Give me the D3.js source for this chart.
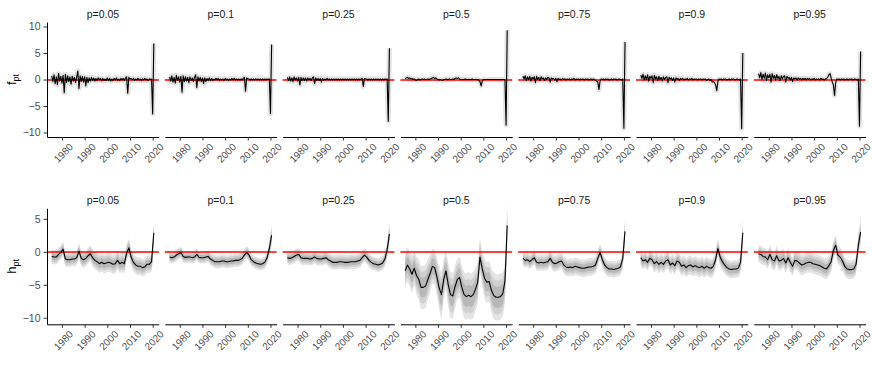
<!DOCTYPE html>
<html>
<head>
<meta charset="utf-8">
<script src="https://cdn.jsdelivr.net/npm/d3@7"></script>
<style>
body { margin: 0; background: #fff; }
text { font-family: "Liberation Sans", Arial, sans-serif; }
</style>
</head>
<body>
<script>
// quantile levels, one panel each
const probs = ['0.05', '0.1', '0.25', '0.5', '0.75', '0.9', '0.95'];
const yearTicks = [1980, 1990, 2000, 2010, 2020];
const fTicks = [-10, -5, 0, 5, 10];
const hTicks = [-10, -5, 0, 5];

// f: semi-annual 1975.5..2020.5, h: annual 1975.5..2020.5
const fTime = d3.range(1975.5, 2020.75, 0.5);
const hTime = d3.range(1975.5, 2020.75, 1);

const f005 = [0.7,-0.4,0.9,-0.8,0.5,-1.0,1.1,-0.3,0.6,-0.7, 0.8,-2.5,1.0,-0.6,0.7,-0.4,0.5,-0.9,0.6,-0.3,
  0.4,-0.6,0.5,1.6,-1.7,0.7,-0.4,0.6,-0.5,0.5, -1.2,0.4,-0.6,0.3,-0.3,0.4,-0.2,0.3,-0.3,0.2,
  -0.2,0.3,-0.1,0.2,-0.3,0.2,-0.2,0.1,-0.2,0.3, -0.2,0.2,-0.3,0.1,-0.2,0.2,-0.1,0.3,-0.2,0.1,
  -0.2,0.2,-0.1,0.2,-0.2,0.3,0.5,-2.6,0.4,0.1, 0.2,-0.1,0.2,-0.2,0.1,-0.1,0.2,-0.1,0.1,-0.2,
  0.1,-0.1,0.2,-0.1,0.1,-0.2,0.1,0.0,0.1,-6.5, 6.8];
const f010 = [0.5,-0.3,0.7,-0.5,0.4,-0.7,0.8,-0.2,0.5,-0.5, 0.6,-2.4,0.7,-0.4,0.5,-0.3,0.4,-0.6,0.5,-0.2,
  0.3,-0.4,0.4,0.9,-1.5,0.5,-0.3,0.4,-0.4,0.3, -0.8,0.3,-0.4,0.2,-0.2,0.3,-0.2,0.2,-0.2,0.1,
  -0.1,0.2,-0.1,0.2,-0.2,0.1,-0.1,0.1,-0.2,0.2, -0.1,0.1,-0.2,0.1,-0.1,0.2,-0.1,0.2,-0.1,0.1,
  -0.1,0.1,-0.1,0.1,-0.1,0.2,0.4,-2.2,0.3,0.1, 0.1,-0.1,0.1,-0.1,0.1,-0.1,0.1,-0.1,0.1,-0.1,
  0.1,-0.1,0.1,-0.1,0.1,-0.1,0.1,0.0,0.1,-6.4, 6.6];
const f025 = [0.4,-0.2,0.5,-0.3,0.3,-0.4,0.5,-0.1,0.3,-0.3, 0.4,-1.0,0.4,-0.2,0.3,-0.2,0.3,-0.3,0.3,-0.1,
  0.2,-0.2,0.3,0.5,-0.8,0.3,-0.2,0.2,-0.2,0.2, -0.5,0.2,-0.2,0.1,-0.1,0.2,-0.1,0.1,-0.1,0.1,
  -0.1,0.1,-0.1,0.1,-0.1,0.1,-0.1,0.1,-0.1,0.1, -0.1,0.1,-0.1,0.1,-0.1,0.1,-0.1,0.1,-0.1,0.1,
  -0.1,0.1,-0.1,0.1,-0.1,0.1,0.2,-1.3,0.2,0.1, 0.1,-0.1,0.1,-0.1,0.1,-0.1,0.1,-0.1,0.1,-0.1,
  0.1,-0.1,0.1,-0.1,0.1,-0.1,0.1,0.0,0.1,-7.9, 5.9];
const f050 = [0.1,0.3,0.4,0.2,0.3,0.1,0.2,0.0,0.1,-0.1, -0.2,0.0,0.1,-0.1,0.0,0.1,0.0,0.1,0.0,0.0,
  0.1,0.0,0.1,0.2,0.3,0.4,0.2,0.3,0.1,0.0, -0.1,0.0,-0.1,-0.2,0.0,0.0,0.1,0.0,0.0,0.1,
  0.0,0.0,0.1,0.0,0.2,0.3,0.2,0.3,0.1,0.0, 0.0,0.0,0.0,0.1,0.0,0.0,0.0,0.0,0.0,0.1,
  0.0,0.0,0.0,0.0,0.0,-0.1,-0.4,-1.2,-0.3,0.0, 0.0,0.0,0.0,0.0,0.0,0.0,0.0,0.0,0.0,0.0,
  0.0,0.0,0.0,0.0,0.0,0.0,0.0,0.0,0.0,-8.6, 9.3];
const f075 = [0.6,0.1,0.7,-0.2,0.5,0.0,0.6,-0.3,0.4,0.1, 0.5,-0.6,0.6,0.0,0.4,-0.2,0.5,0.1,0.3,-0.2,
  0.3,0.0,0.4,0.3,-0.5,0.3,0.1,0.2,-0.1,0.2, -0.4,0.2,0.0,0.1,-0.1,0.2,0.0,0.1,-0.1,0.1,
  0.0,0.1,-0.1,0.1,0.0,0.2,-0.1,0.1,0.0,0.1, -0.1,0.1,0.0,0.1,-0.1,0.1,0.0,0.1,-0.1,0.0,
  0.1,-0.1,0.1,0.0,-0.2,-0.3,-0.5,-1.9,-0.3,0.1, 0.0,0.1,-0.1,0.1,0.0,0.1,-0.1,0.0,0.1,-0.1,
  0.1,0.0,0.1,-0.1,0.0,0.1,0.0,-0.1,0.1,-9.2, 7.1];
const f090 = [0.8,0.2,1.0,-0.1,0.7,0.0,0.9,-0.3,0.6,0.2, 0.7,-0.6,0.8,0.1,0.5,-0.2,0.6,0.0,0.4,-0.3,
  0.5,0.0,0.4,0.5,-0.6,0.4,0.1,0.3,-0.2,0.3, -0.5,0.3,0.0,0.2,-0.2,0.2,0.0,0.2,-0.1,0.1,
  0.0,0.2,-0.1,0.1,0.0,0.2,-0.1,0.1,0.0,0.1, -0.1,0.1,0.0,0.1,-0.1,0.1,0.0,0.1,-0.2,0.0,
  0.1,-0.2,0.0,-0.5,-0.3,-0.6,-1.0,-2.1,-0.4,0.1, 0.0,0.1,-0.1,0.1,0.0,0.1,-0.1,0.0,0.1,-0.1,
  0.1,0.0,0.1,-0.1,0.0,0.1,0.0,-0.1,0.1,-9.3, 5.0];
const f095 = [1.1,0.3,1.3,0.0,1.0,0.2,1.2,-0.2,0.9,0.3, 1.0,-0.5,1.1,0.2,0.8,-0.1,0.9,0.1,0.6,-0.2,
  0.7,0.1,0.6,0.7,-0.5,0.6,0.2,0.4,-0.1,0.4, -0.4,0.3,0.1,0.3,-0.1,0.3,0.0,0.2,-0.1,0.2,
  0.0,0.2,-0.1,0.2,0.0,0.2,-0.1,0.1,0.0,0.2, -0.1,0.1,0.0,0.1,-0.1,0.2,0.0,0.1,-0.1,0.1,
  0.2,0.4,0.9,1.1,0.3,-0.5,-1.0,-3.0,-0.6,0.1, 0.0,0.1,-0.1,0.1,0.0,0.1,-0.1,0.0,0.1,-0.1,
  0.1,0.0,0.1,-0.1,0.0,0.1,0.0,-0.1,0.1,-8.8, 5.3];

const h005 = [-0.7,-0.8,-0.8,-0.4,-0.1, 0.4,-1.1,-1.2,-1.2,-1.1, -1.1,-0.9,0.1,-1.0,-1.2, -1.0,-0.6,-0.3,-0.9,-1.3,
  -1.5,-1.8,-1.6,-1.8,-1.7, -1.6,-1.7,-1.9,-1.8,-1.3, -1.8,-1.6,-1.8,-0.2,0.6, -0.8,-1.6,-2.0,-2.2,-2.2,
  -2.4,-2.3,-1.9,-1.9,-1.5, 2.9];
const h010 = [-0.8,-0.9,-0.8,-0.5,-0.3, -0.1,-0.7,-0.85,-0.8,-0.8, -0.9,-0.8,-0.4,-0.85,-0.9, -0.9,-0.8,-0.7,-1.1,-1.3,
  -1.5,-1.5,-1.5,-1.4,-1.4, -1.5,-1.5,-1.4,-1.4,-1.3, -1.3,-1.2,-1.0,-0.5,-0.1, -0.5,-1.2,-1.5,-1.7,-1.8,
  -1.9,-1.8,-1.6,-0.9,0.5, 2.5];
const h025 = [-0.9,-1.0,-0.9,-0.7,-0.5, -0.4,-0.9,-1.0,-1.0,-1.0, -1.1,-1.0,-0.8,-1.0,-1.1, -1.1,-1.0,-0.9,-1.2,-1.4,
  -1.6,-1.6,-1.6,-1.5,-1.5, -1.6,-1.6,-1.6,-1.5,-1.5, -1.5,-1.4,-1.3,-0.9,-0.5, -0.8,-1.3,-1.6,-1.8,-1.9,
  -2.0,-1.9,-1.7,-1.1,0.3, 2.7];
const h050 = [-2.9,-2.0,-2.6,-3.4,-2.5, -3.6,-4.2,-5.4,-5.4,-5.2, -4.2,-3.3,-2.2,-2.4,-3.8, -5.5,-6.5,-4.2,-2.9,-5.0,
  -6.5,-6.7,-5.3,-4.2,-3.9, -5.4,-6.5,-6.8,-6.6,-6.8, -6.5,-5.7,-4.6,-0.8,-2.6, -4.0,-4.6,-4.5,-5.8,-6.6,
  -6.9,-6.9,-6.8,-6.4,-4.5, 4.0];
const h075 = [-1.0,-1.3,-1.2,-1.5,-1.2, -0.9,-1.6,-1.7,-1.6,-1.7, -1.6,-1.5,-1.0,-1.6,-1.8, -1.7,-1.5,-1.4,-2.0,-2.3,
  -2.4,-2.3,-2.4,-2.2,-2.3, -2.4,-2.5,-2.5,-2.4,-2.3, -2.3,-2.2,-2.0,-1.0,-0.1, -1.2,-2.0,-2.4,-2.6,-2.6,
  -2.7,-2.6,-2.5,-2.3,-1.0, 3.1];
const h090 = [-0.9,-1.4,-1.2,-1.6,-1.0, -1.2,-1.8,-1.5,-1.9,-1.6, -1.9,-1.4,-1.2,-2.0,-1.7, -2.1,-1.4,-1.6,-2.2,-2.0,
  -2.4,-2.1,-2.0,-2.3,-2.1, -2.3,-2.4,-2.2,-2.5,-2.2, -2.4,-2.5,-2.2,-1.2,0.5, -0.8,-1.5,-2.0,-2.4,-2.6,
  -2.7,-2.6,-2.6,-2.5,-1.6, 2.9];
const h095 = [-0.3,-0.4,-0.7,-0.8,-1.2, -0.4,-1.2,-1.4,-0.6,-1.4, -1.3,-1.0,-1.7,-0.9,-1.6, -2.2,-1.3,-1.4,-1.7,-2.0,
  -1.9,-1.7,-1.6,-1.6,-1.8, -1.9,-2.0,-2.1,-2.3,-2.5, -2.6,-2.1,-1.5,0.2,1.0, -0.5,-0.8,-1.4,-2.2,-2.6,
  -2.7,-2.7,-2.6,-1.9,1.0, 3.0];

// half-width of the inner credible band around h
const hw005 = [0.5,0.5,0.5,0.5,0.5, 0.5,0.5,0.5,0.5,0.5, 0.5,0.5,0.5,0.55,0.55, 0.55,0.55,0.55,0.6,0.6,
  0.65,0.65,0.65,0.65,0.65, 0.65,0.65,0.65,0.65,0.65, 0.65,0.65,0.65,0.6,0.6, 0.6,0.6,0.6,0.6,0.6,
  0.6,0.6,0.6,0.6,0.7, 0.9];
const hw010 = [0.4,0.4,0.4,0.4,0.4, 0.4,0.4,0.4,0.4,0.4, 0.4,0.4,0.4,0.4,0.4, 0.4,0.4,0.4,0.42,0.42,
  0.45,0.45,0.45,0.45,0.45, 0.45,0.45,0.45,0.45,0.45, 0.45,0.45,0.45,0.42,0.42, 0.42,0.42,0.42,0.42,0.42,
  0.42,0.42,0.42,0.45,0.55, 0.8];
const hw025 = [0.45,0.45,0.45,0.45,0.45, 0.45,0.45,0.45,0.45,0.45, 0.45,0.45,0.45,0.45,0.45, 0.45,0.45,0.45,0.48,0.48,
  0.5,0.5,0.5,0.5,0.5, 0.5,0.5,0.5,0.5,0.5, 0.5,0.5,0.5,0.48,0.48, 0.48,0.48,0.48,0.48,0.48,
  0.48,0.48,0.48,0.5,0.6, 0.85];
const hw050 = [1.2,1.2,1.2,1.3,1.2, 1.3,1.4,1.5,1.5,1.5, 1.4,1.3,1.2,1.2,1.3, 1.5,1.6,1.4,1.3,1.5,
  1.6,1.6,1.5,1.4,1.4, 1.5,1.6,1.6,1.6,1.6, 1.6,1.5,1.4,1.2,1.2, 1.4,1.4,1.4,1.5,1.6,
  1.6,1.6,1.6,1.5,1.4, 1.6];
const hw075 = [0.5,0.5,0.5,0.5,0.5, 0.5,0.55,0.55,0.55,0.55, 0.55,0.55,0.55,0.55,0.55, 0.55,0.55,0.55,0.6,0.6,
  0.6,0.6,0.6,0.6,0.6, 0.6,0.6,0.6,0.6,0.6, 0.6,0.6,0.6,0.55,0.55, 0.55,0.55,0.55,0.55,0.55,
  0.55,0.55,0.55,0.55,0.65, 0.9];
const hw090 = [0.55,0.55,0.55,0.55,0.55, 0.55,0.6,0.6,0.6,0.6, 0.6,0.6,0.6,0.6,0.6, 0.6,0.6,0.6,0.65,0.65,
  0.65,0.65,0.65,0.65,0.65, 0.65,0.65,0.65,0.65,0.65, 0.65,0.65,0.65,0.6,0.6, 0.6,0.6,0.6,0.6,0.6,
  0.6,0.6,0.6,0.6,0.7, 0.95];
const hw095 = [0.6,0.6,0.6,0.6,0.6, 0.6,0.65,0.65,0.65,0.65, 0.65,0.65,0.65,0.65,0.65, 0.65,0.65,0.65,0.7,0.7,
  0.7,0.7,0.7,0.7,0.7, 0.7,0.7,0.7,0.7,0.7, 0.7,0.7,0.7,0.65,0.65, 0.65,0.65,0.65,0.65,0.65,
  0.65,0.65,0.65,0.65,0.75, 1.0];

const fSeries = [f005, f010, f025, f050, f075, f090, f095];
const hSeries = [h005, h010, h025, h050, h075, h090, h095];
const hWidth = [hw005, hw010, hw025, hw050, hw075, hw090, hw095];

let width = 872,
    height = 374,
    left0 = 47,
    panelW = 111.8,
    step = 117.8;

// band levels: multiple of the inner half-width, fill
let bandLevels = [[2.2, '#e4e4e4'], [1.6, '#d0d0d0'], [1, '#b8b8b8']];

let svg = d3.select('body').append('svg').attr('width', width).attr('height', height);

let xScale = d3.scaleLinear([1973.4, 2022.7], [0, panelW]);

function drawRow(cfg){
    let yScale = d3.scaleLinear(cfg.domain, [cfg.bottom, cfg.top]);

    // y axis title with subscript
    let yl = svg.append('text')
        .attr('transform', `translate(16,${(cfg.top+cfg.bottom)/2}) rotate(-90)`)
        .style('text-anchor', 'middle')
        .style('font-size', '13px')
        .style('fill', '#000');
    yl.append('tspan').text(cfg.name);
    yl.append('tspan').text('pt').attr('dy', '0.35em').style('font-size', '9px');

    probs.forEach((p, i) => {
        let g = svg.append('g').attr('transform', `translate(${left0 + i*step},0)`);
        let times = cfg.times, vals = cfg.series[i];
        let rows = d3.transpose([times, vals]);
        let lineGen = d3.line().x(d => xScale(d[0])).y(d => yScale(d[1]));

        if(cfg.widths){
            let w = cfg.widths[i];
            bandLevels.forEach(([k, fill]) => {
                let band = d3.area()
                    .x((d, j) => xScale(times[j]))
                    .y0((d, j) => yScale(vals[j] - w[j]*k))
                    .y1((d, j) => yScale(vals[j] + w[j]*k))
                    .curve(d3.curveMonotoneX);
                g.append('path').datum(vals).attr('d', band).style('fill', fill);
            });
        } else {
            // soft halo standing in for the narrow interval of f
            g.append('path')
                .datum(rows)
                .attr('d', lineGen)
                .style('fill', 'none')
                .style('stroke', '#e2e2e2')
                .style('stroke-width', '5px')
                .style('stroke-linejoin', 'round');
        }

        // zero line sits across two pixel rows so it keeps its red
        let y0 = Math.round(yScale(0));
        g.append('line')
            .attr('x1', 0).attr('x2', panelW)
            .attr('y1', y0).attr('y2', y0)
            .style('stroke', '#ff0000')
            .style('stroke-width', '1.4px');

        g.append('path')
            .datum(rows)
            .attr('d', lineGen)
            .style('fill', 'none')
            .style('stroke', '#000')
            .style('stroke-width', '1.1px')
            .style('stroke-linejoin', 'round');

        g.append('text')
            .attr('x', panelW/2)
            .attr('y', cfg.top - 4.5)
            .style('text-anchor', 'middle')
            .style('font-size', '10.5px')
            .style('fill', '#1a1a1a')
            .text('p=' + p);

        let xAxis = g.append('g').attr('transform', `translate(0,${cfg.bottom})`)
            .call(d3.axisBottom(xScale).tickValues(yearTicks).tickSize(3.5).tickSizeOuter(0).tickFormat(d3.format('d')));
        xAxis.selectAll('text')
            .attr('y', 0)
            .attr('dy', '0.35em')
            .attr('transform', 'translate(1,16) rotate(-45)')
            .style('text-anchor', 'middle')
            .style('font-size', '10px');

        if(i === 0){
            g.append('g')
                .call(d3.axisLeft(yScale).tickValues(cfg.ticks).tickSize(3.5).tickSizeOuter(0))
                .selectAll('text').style('font-size', '10.5px');
        }
    });
}

drawRow({name: 'f', times: fTime, series: fSeries, domain: [-10.85, 10.85], top: 22, bottom: 137, ticks: fTicks});
drawRow({name: 'h', times: hTime, series: hSeries, widths: hWidth, domain: [-11.0, 6.6], top: 208.3, bottom: 324.3, ticks: hTicks});

// theme: classic axis look
svg.selectAll('.domain').style('stroke', '#000').style('stroke-width', '1px');
svg.selectAll('.tick line').style('stroke', '#333');
svg.selectAll('.tick text').style('fill', '#4d4d4d')
    .style('font-family', '"Liberation Sans", Arial, sans-serif');
</script>
</body>
</html>
